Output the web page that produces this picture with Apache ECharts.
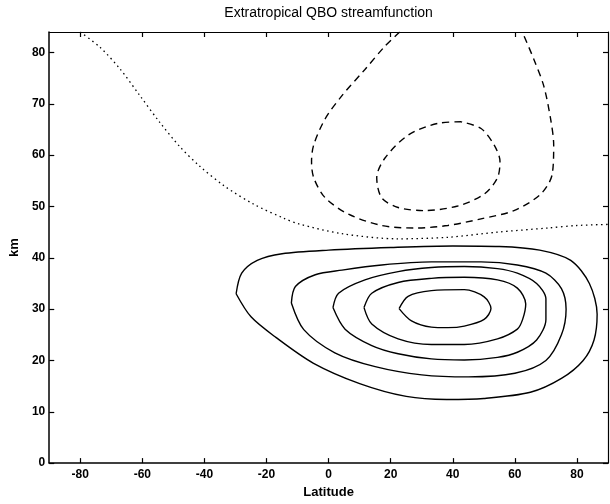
<!DOCTYPE html>
<html>
<head>
<meta charset="utf-8">
<script src="https://cdn.jsdelivr.net/npm/echarts@6/dist/echarts.min.js"></script>
<style>
  html, body { margin: 0; padding: 0; background: #fff; }
  #chart { width: 610px; height: 504px; }
</style>
</head>
<body>
<div id="chart"></div>
<script>
// tick labels
const latTicks = [-80, -60, -40, -20, 0, 20, 40, 60, 80]
const kmTicks = [0, 10, 20, 30, 40, 50, 60, 70, 80]

// positive streamfunction contours [latitude, km], outermost first
const solidA = [[-29.8, 33], [-28, 37], [-23, 39.5], [-15, 40.8], [0, 41.5], [20, 42], [40, 42.3], [55, 42.2], [68, 41.5], [78, 39.5], [84, 35], [86.5, 29], [85.5, 24], [82, 20], [75, 16.5], [65, 13.8], [50, 12.6], [38, 12.4], [25, 13], [10, 15.5], [-5, 19.5], [-17, 24.5], [-25, 28.5], [-29.8, 33]]
const solidB = [[-12, 31.2], [-10.7, 34.4], [-4.3, 36.7], [4.3, 37.6], [17.1, 38.6], [33.1, 39.2], [49.1, 39.2], [60.8, 38.6], [70, 37], [75, 34], [76.5, 30], [75, 25], [70, 20], [60, 17.5], [45, 16.8], [30, 17.2], [15, 18.8], [2, 21.5], [-8, 26], [-12, 31.2]]
const solidC = [[1.4, 30.3], [3.2, 33.1], [11.7, 35.7], [22.4, 37.3], [33.1, 38.1], [43.7, 38.3], [54.4, 37.9], [60.8, 37], [67, 35], [70, 32], [70, 28], [67, 24], [60.8, 21.6], [54.4, 20.6], [43.7, 20.1], [33.1, 20.3], [22.4, 21.3], [13.9, 22.9], [5.3, 26.1], [1.4, 30.3]]
const solidD = [[11.4, 30.3], [13.9, 33.1], [22.4, 35.2], [33.1, 36], [43.7, 36.2], [54.4, 35.7], [60.8, 34.1], [63.5, 31], [62.5, 28], [60.8, 26.1], [54.4, 24.2], [43.7, 23.1], [33.1, 23.1], [22.4, 24.2], [13.9, 27.1], [11.4, 30.3]]
const solidE = [[22.7, 30.1], [25.6, 32.5], [33.1, 33.6], [43.7, 33.8], [50.1, 32.4], [52.3, 30.1], [50.1, 28], [43.7, 26.7], [38.4, 26.4], [33.1, 26.5], [26.7, 27.7], [22.7, 30.1]]

// negative contours
const dashedOuter = [[22.9, 84], [18.1, 81.2], [11.7, 76.7], [4.3, 71.6], [-1.1, 67.1], [-4.8, 62], [-5.5, 58.8], [-4.8, 55.6], [-1.1, 51.7], [6.4, 48.5], [17.1, 46.3], [27.7, 45.8], [38.4, 46.3], [49.1, 47.6], [59.7, 49.2], [68.3, 52.4], [72, 56.2], [72.5, 62], [71.5, 67.1], [69.3, 73.5], [66.1, 78.7], [62.4, 84]]
const dashedInner = [[42.7, 66.5], [35.2, 66.2], [25.6, 63.9], [18.1, 59.4], [15.5, 55.6], [17.1, 51.7], [22.4, 49.8], [30.9, 49.2], [41.6, 50.1], [50.1, 52.4], [54.4, 55.6], [55.2, 58.8], [53.3, 62], [49.1, 65.2], [42.7, 66.5]]

// zero contour
const zeroLine = [[-80, 84], [-73.6, 81], [-67.2, 76.8], [-60.8, 71.6], [-54.4, 66.4], [-48, 61.7], [-41.6, 57.9], [-33.6, 54], [-24, 50.4], [-14.4, 47.7], [-9.6, 46.6], [4.3, 44.7], [22.4, 43.7], [38.4, 44], [54.4, 45], [70.4, 45.8], [80, 46.3], [90, 46.5]]

const font = 'Liberation Sans, Arial, sans-serif'

const contour = (data, type, width) => ({
  type: 'line',
  data: data,
  showSymbol: false,
  symbol: 'none',
  smooth: 0.3,
  silent: true,
  lineStyle: { color: '#000', width: width, type: type }
})

const chart = echarts.init(document.getElementById('chart'), null, { renderer: 'canvas' })
chart.setOption({
  animation: false,
  backgroundColor: '#fff',
  grid: { left: 46, right: 2, top: 32, bottom: 35 },
  xAxis: [
    {
      type: 'value', min: -90, max: 90, position: 'bottom',
      name: 'Latitude', nameLocation: 'middle', nameGap: 21,
      nameTextStyle: { fontFamily: font, fontSize: 13, fontWeight: 'bold', color: '#000' },
      splitLine: { show: false },
      axisLine: { onZero: false, lineStyle: { color: '#000', width: 1.5 } },
      axisTick: { inside: true, length: 5, customValues: latTicks, lineStyle: { color: '#000', width: 1.2 } },
      axisLabel: { customValues: latTicks, margin: 6, fontFamily: font, fontSize: 12, fontWeight: 'bold', color: '#000' }
    },
    {
      type: 'value', min: -90, max: 90, position: 'top',
      name: 'Extratropical QBO streamfunction', nameLocation: 'middle', nameGap: 12,
      nameTextStyle: { fontFamily: font, fontSize: 14, color: '#000' },
      splitLine: { show: false },
      axisLine: { onZero: false, lineStyle: { color: '#000', width: 1.2 } },
      axisTick: { inside: true, length: 5, customValues: latTicks, lineStyle: { color: '#000', width: 1.2 } },
      axisLabel: { show: false }
    }
  ],
  yAxis: [
    {
      type: 'value', min: 0, max: 84, position: 'left',
      name: 'km', nameLocation: 'middle', nameGap: 28,
      nameTextStyle: { fontFamily: font, fontSize: 13, fontWeight: 'bold', color: '#000' },
      splitLine: { show: false },
      axisLine: { onZero: false, lineStyle: { color: '#000', width: 1.5 } },
      axisTick: { inside: true, length: 5, customValues: kmTicks, lineStyle: { color: '#000', width: 1.2 } },
      axisLabel: { customValues: kmTicks, margin: 4, fontFamily: font, fontSize: 12, fontWeight: 'bold', color: '#000' }
    },
    {
      type: 'value', min: 0, max: 84, position: 'right',
      splitLine: { show: false },
      axisLine: { onZero: false, lineStyle: { color: '#000', width: 1.2 } },
      axisTick: { inside: true, length: 5, customValues: kmTicks, lineStyle: { color: '#000', width: 1.2 } },
      axisLabel: { show: false }
    }
  ],
  series: [
    contour(solidA, 'solid', 1.4),
    contour(solidB, 'solid', 1.4),
    contour(solidC, 'solid', 1.4),
    contour(solidD, 'solid', 1.4),
    contour(solidE, 'solid', 1.4),
    contour(dashedOuter, [7, 5], 1.4),
    contour(dashedInner, [7, 5], 1.4),
    contour(zeroLine, [1.5, 3.5], 1.3)
  ]
})
</script>
</body>
</html>
